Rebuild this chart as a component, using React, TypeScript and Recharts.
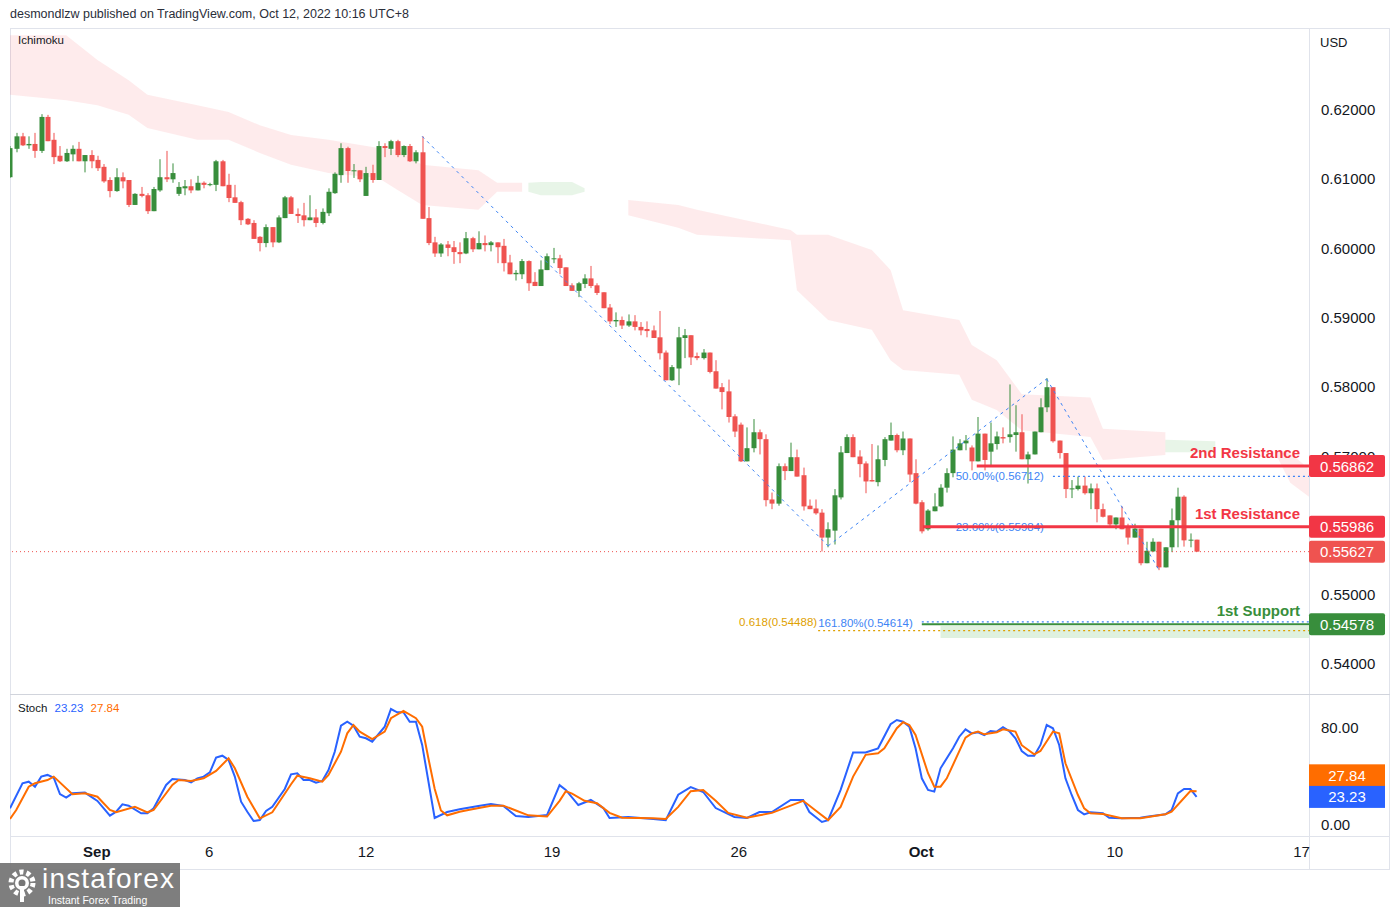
import React from "react";
import { ComposedChart, Bar, Area, Line, XAxis, YAxis, ReferenceLine, ReferenceArea } from "recharts";

// 4h candles, index 0 = first (cut) candle on the left edge
const opens = [0.6103,0.6144,0.6162,0.6149,0.6151,0.6141,0.6190,0.6157,0.6134,0.6126,0.6136,0.6144,0.6126,0.6135,0.6128,0.6118,0.6099,0.6083,0.6103,0.6099,0.6063,0.6079,0.6077,0.6054,0.6084,0.6103,0.6100,0.6079,0.6087,0.6090,0.6084,0.6095,0.6092,0.6092,0.6126,0.6092,0.6074,0.6067,0.6043,0.6037,0.6017,0.6008,0.6031,0.6009,0.6044,0.6074,0.6050,0.6048,0.6041,0.6045,0.6037,0.6051,0.6080,0.6106,0.6145,0.6112,0.6113,0.6076,0.6109,0.6099,0.6148,0.6144,0.6155,0.6135,0.6148,0.6126,0.6139,0.6044,0.6009,0.5993,0.6006,0.6002,0.5995,0.5993,0.6015,0.5999,0.6008,0.6005,0.6009,0.6004,0.5980,0.5963,0.5963,0.5982,0.5952,0.5946,0.5969,0.5985,0.5986,0.5973,0.5947,0.5939,0.5949,0.5957,0.5947,0.5937,0.5915,0.5895,0.5897,0.5889,0.5895,0.5887,0.5884,0.5882,0.5872,0.5850,0.5810,0.5827,0.5871,0.5875,0.5845,0.5842,0.5850,0.5823,0.5800,0.5794,0.5758,0.5746,0.5693,0.5712,0.5735,0.5725,0.5638,0.5632,0.5686,0.5679,0.5699,0.5673,0.5629,0.5625,0.5619,0.5583,0.5593,0.5641,0.5705,0.5728,0.5700,0.5690,0.5666,0.5663,0.5695,0.5723,0.5731,0.5709,0.5726,0.5676,0.5634,0.5595,0.5621,0.5628,0.5655,0.5676,0.5709,0.5719,0.5713,0.5693,0.5733,0.5707,0.5718,0.5728,0.5728,0.5731,0.5735,0.5696,0.5703,0.5735,0.5771,0.5800,0.5723,0.5705,0.5653,0.5653,0.5658,0.5647,0.5654,0.5624,0.5615,0.5602,0.5612,0.5597,0.5583,0.5596,0.5546,0.5563,0.5577,0.5540,0.5569,0.5608,0.5642,0.5579,0.5580];
const highs = [0.6148,0.6167,0.6167,0.6162,0.6167,0.6194,0.6193,0.6167,0.6148,0.6144,0.6149,0.6154,0.6135,0.6142,0.6134,0.6122,0.6103,0.6116,0.6110,0.6099,0.6080,0.6089,0.6080,0.6089,0.6129,0.6141,0.6123,0.6096,0.6099,0.6100,0.6105,0.6097,0.6095,0.6128,0.6128,0.6108,0.6092,0.6069,0.6044,0.6041,0.6018,0.6035,0.6031,0.6048,0.6076,0.6076,0.6058,0.6066,0.6077,0.6057,0.6058,0.6087,0.6110,0.6152,0.6147,0.6122,0.6113,0.6118,0.6121,0.6155,0.6152,0.6157,0.6157,0.6149,0.6151,0.6142,0.6162,0.6060,0.6017,0.6008,0.6011,0.6011,0.6009,0.6024,0.6017,0.6025,0.6019,0.6011,0.6009,0.6014,0.5991,0.5969,0.5985,0.5983,0.5966,0.5983,0.5993,0.6001,0.5991,0.5973,0.5950,0.5952,0.5963,0.5975,0.5950,0.5937,0.5920,0.5908,0.5902,0.5905,0.5904,0.5894,0.5895,0.5889,0.5910,0.5853,0.5832,0.5887,0.5884,0.5875,0.5850,0.5855,0.5850,0.5839,0.5806,0.5811,0.5761,0.5749,0.5742,0.5754,0.5739,0.5732,0.5648,0.5690,0.5690,0.5720,0.5710,0.5684,0.5638,0.5638,0.5624,0.5605,0.5653,0.5715,0.5732,0.5732,0.5709,0.5693,0.5718,0.5716,0.5728,0.5749,0.5733,0.5736,0.5726,0.5696,0.5637,0.5624,0.5647,0.5660,0.5683,0.5729,0.5725,0.5731,0.5716,0.5757,0.5733,0.5749,0.5736,0.5742,0.5804,0.5774,0.5761,0.5707,0.5736,0.5784,0.5813,0.5800,0.5723,0.5705,0.5666,0.5671,0.5671,0.5661,0.5661,0.5632,0.5615,0.5612,0.5628,0.5603,0.5603,0.5596,0.5577,0.5582,0.5577,0.5569,0.5625,0.5655,0.5644,0.5589,0.5580];
const lows = [0.6102,0.6139,0.6148,0.6144,0.6131,0.6138,0.6155,0.6122,0.6125,0.6125,0.6126,0.6126,0.6110,0.6116,0.6112,0.6095,0.6074,0.6082,0.6087,0.6060,0.6063,0.6074,0.6050,0.6054,0.6082,0.6096,0.6095,0.6076,0.6077,0.6080,0.6084,0.6087,0.6090,0.6083,0.6090,0.6067,0.6066,0.6034,0.6034,0.6014,0.5996,0.6002,0.6002,0.6008,0.6044,0.6050,0.6037,0.6032,0.6041,0.6031,0.6035,0.6047,0.6079,0.6095,0.6095,0.6102,0.6096,0.6076,0.6095,0.6099,0.6132,0.6135,0.6132,0.6132,0.6125,0.6123,0.6043,0.6005,0.5988,0.5988,0.5989,0.5978,0.5979,0.5992,0.5995,0.5999,0.5996,0.5996,0.5979,0.5967,0.5963,0.5954,0.5956,0.5939,0.5946,0.5946,0.5969,0.5979,0.5963,0.5946,0.5939,0.5930,0.5943,0.5943,0.5933,0.5914,0.5891,0.5887,0.5884,0.5887,0.5882,0.5875,0.5872,0.5871,0.5840,0.5810,0.5809,0.5803,0.5842,0.5832,0.5839,0.5840,0.5820,0.5798,0.5768,0.5749,0.5728,0.5692,0.5693,0.5706,0.5703,0.5628,0.5624,0.5629,0.5666,0.5679,0.5671,0.5622,0.5624,0.5616,0.5563,0.5569,0.5573,0.5638,0.5705,0.5699,0.5670,0.5647,0.5664,0.5657,0.5686,0.5723,0.5706,0.5702,0.5663,0.5631,0.5589,0.5593,0.5621,0.5627,0.5648,0.5670,0.5709,0.5709,0.5680,0.5693,0.5680,0.5687,0.5710,0.5719,0.5720,0.5707,0.5696,0.5661,0.5703,0.5735,0.5764,0.5720,0.5697,0.5640,0.5640,0.5651,0.5645,0.5624,0.5605,0.5612,0.5597,0.5595,0.5595,0.5573,0.5583,0.5543,0.5546,0.5562,0.5536,0.5540,0.5562,0.5569,0.5570,0.5569,0.55627];
const closes = [0.6145,0.6162,0.6149,0.6151,0.6141,0.6190,0.6155,0.6132,0.6126,0.6138,0.6144,0.6126,0.6135,0.6126,0.6116,0.6097,0.6083,0.6103,0.6097,0.6063,0.6079,0.6076,0.6054,0.6086,0.6103,0.6100,0.6109,0.6089,0.6090,0.6084,0.6095,0.6092,0.6093,0.6126,0.6090,0.6073,0.6066,0.6041,0.6035,0.6014,0.6008,0.6031,0.6009,0.6045,0.6074,0.6050,0.6047,0.6041,0.6045,0.6037,0.6053,0.6082,0.6108,0.6145,0.6112,0.6113,0.6100,0.6109,0.6099,0.6148,0.6145,0.6155,0.6135,0.6148,0.6126,0.6139,0.6043,0.6008,0.5993,0.6006,0.6001,0.5995,0.5992,0.6015,0.5999,0.6008,0.6005,0.6009,0.6002,0.5979,0.5963,0.5965,0.5982,0.5950,0.5946,0.5970,0.5989,0.5986,0.5972,0.5946,0.5939,0.5950,0.5957,0.5946,0.5936,0.5914,0.5895,0.5897,0.5889,0.5895,0.5887,0.5882,0.5881,0.5871,0.5849,0.5810,0.5829,0.5872,0.5875,0.5843,0.5842,0.5850,0.5822,0.5798,0.5793,0.5757,0.5736,0.5693,0.5712,0.5735,0.5725,0.5637,0.5632,0.5686,0.5679,0.5699,0.5671,0.5628,0.5624,0.5618,0.5583,0.5595,0.5644,0.5706,0.5728,0.5699,0.5689,0.5664,0.5664,0.5696,0.5725,0.5731,0.5709,0.5726,0.5674,0.5632,0.5592,0.5622,0.5628,0.5655,0.5676,0.5710,0.5719,0.5723,0.5693,0.5733,0.5695,0.5719,0.5729,0.5726,0.5732,0.5735,0.5696,0.5703,0.5736,0.5771,0.5800,0.5722,0.5705,0.5653,0.5654,0.5658,0.5647,0.5654,0.5624,0.5613,0.5602,0.5612,0.5595,0.5583,0.5596,0.5546,0.5564,0.5577,0.5540,0.5569,0.5608,0.5642,0.5579,0.5580,0.55627];

// Stochastic %K and %D vertices [candle index, value]
const stochK = [[0,13.8],[2,34.5],[3,35.8],[4,31.7],[5,40],[6,41.4],[7,39.1],[8,25.6],[9,22.6],[10,26.2],[12,26.8],[14,19.9],[16,7.7],[17,11],[18,17.1],[19,16],[21,9.7],[22,9.7],[23,13.8],[25,33.1],[26,38],[28,37.2],[29,35.3],[30,38.6],[31,40],[32,43.6],[33,55.7],[34,57.3],[35,53.8],[36,40],[37,19.3],[38,11],[39,3.3],[40,4.1],[41,11.6],[42,15.1],[44,29.8],[45,41.9],[46,42.8],[47,37.2],[48,37.2],[49,35],[50,36.4],[51,45.5],[52,60.6],[53,82.1],[54,85.4],[55,82.1],[56,73],[57,71.7],[58,68.9],[60,81.3],[61,95.9],[62,93.2],[63,93.2],[64,85.4],[65,85.4],[66,66.2],[68,5.8],[70,10.7],[72,13],[75,15.7],[77,17.4],[79,15.7],[81,7.4],[83,6.6],[86,8.3],[88,33],[89,29],[91,16.5],[93,20.7],[95,14],[96,5.8],[99,6.6],[103,5],[105,4],[107,25],[109,31.4],[111,27.3],[113,14],[116,6.6],[118,5.8],[120,10.7],[122,10.7],[125,20.7],[127,20.7],[128,10.7],[130,2.5],[131,4],[133,29],[135,60],[137,60],[139,63.4],[141,83.3],[142,86.8],[143,85.4],[144,81.3],[145,63.4],[146,38.6],[147,29],[148,27.6],[149,46.9],[151,63.4],[152,73],[153,79.1],[154,75.8],[155,76.7],[156,74.4],[157,77.7],[158,77.2],[159,80.8],[160,77.7],[161,71.7],[162,61.2],[163,57.3],[164,57.3],[165,66.2],[166,82.7],[167,80],[168,66.2],[169,38.6],[170,24.8],[171,12.4],[172,8.8],[173,10.5],[175,9.7],[176,6],[178,5.5],[181,6],[182,6.9],[185,8.8],[186,12.4],[187,26.2],[188,29.8],[189,29.8],[190,23.23]];
const stochD = [[0,5],[1,12.4],[3,31.7],[4,34.5],[6,37.2],[7,40],[10,25.4],[12,26.2],[14,23.4],[16,12.4],[17,10.5],[20,15.1],[22,10.5],[23,12.4],[26,33.1],[27,37.2],[29,36.4],[31,38.6],[33,44.7],[35,55.2],[36,46.9],[38,23.4],[40,5.5],[42,10.5],[45,33.7],[46,40.8],[48,38.6],[50,35.8],[51,41.4],[53,60.6],[54,75.8],[55,82.7],[56,77.2],[58,71.1],[60,77.2],[61,88.3],[63,94.3],[65,88.3],[66,81.3],[67,55],[68,30],[69,12],[70,8],[72,11],[74,13],[77,16],[79,16],[81,12],[83,8],[86,7],[88,20],[89,28],[90,26],[92,20],[94,18],[96,10],[98,6],[103,5.5],[105,5],[107,15],[109,28],[111,29],[113,20],[115,10],[118,6],[120,8],[122,10],[125,16],[127,20],[129,12],[131,4],[133,15],[135,40],[137,58],[139,59.3],[140,63.4],[142,80],[143,85],[144,82.7],[145,74.4],[147,42.8],[148,31.7],[149,31.7],[150,38.6],[153,72.2],[154,75.8],[155,77.2],[156,75],[158,76.7],[159,79.1],[161,77.2],[162,66],[164,58.4],[165,61.2],[167,77.2],[168,75.8],[169,51],[171,24.8],[172,13.8],[173,9.7],[175,9.1],[178,5.5],[181,5.5],[185,8.8],[186,11],[189,28.1],[190,27.84]];

// Ichimoku cloud [index, lower, upper]
const cloudRed1 = [[0,0.6222,0.6308],[9,0.6214,0.6308],[14,0.6207,0.6272],[19,0.6193,0.6243],[22,0.6174,0.6222],[30,0.6157,0.6207],[35,0.6157,0.6197],[40,0.6138,0.6178],[45,0.6121,0.6164],[51,0.6109,0.6157],[59,0.6102,0.6145],[62,0.6085,0.6142],[66,0.6063,0.6121],[75,0.6056,0.6113],[78,0.6082,0.6095],[82,0.6082,0.6095]];
const cloudGreen1 = [[83,0.6082,0.6095],[85,0.6077,0.6096],[90,0.6077,0.6096],[92,0.6082,0.6087]];
const cloudRed2 = [[99,0.6048,0.6070],[107,0.6030,0.6063],[110,0.6020,0.6056],[125,0.6012,0.6027],[126,0.5940,0.6020],[131,0.5897,0.6020],[138,0.5883,0.5998],[141,0.5839,0.5969],[143,0.5825,0.5911],[152,0.5818,0.5897],[154,0.5782,0.5861],[158,0.5767,0.5839],[162,0.5738,0.5790],[173,0.5728,0.5785],[175,0.5695,0.5740],[185,0.5702,0.5735]];
const cloudGreen2 = [[185,0.5706,0.5724],[193,0.5706,0.5722]];
const cloudRed3 = [[203,0.5698,0.5709],[205,0.5662,0.5705],[208,0.5642,0.5682]];

const priceTicks = [0.54, 0.55, 0.56, 0.57, 0.58, 0.59, 0.6, 0.61, 0.62];
const stochTicks = [0, 80];
const dayTicks = [13.9, 31.9, 57.0, 86.8, 116.7, 145.9, 176.9, 206.8];
const dayLabels = ["Sep", "6", "12", "19", "26", "Oct", "10", "17"];

const priceBadges: Record<string, string> = {
  "0.56862": "#f23645",
  "0.55986": "#f23645",
  "0.55627": "#ef5350",
  "0.54578": "#388e3c",
};
const stochBadges: Record<string, [string, number]> = {
  "23.23": ["#2962ff", 0],
  "27.84": ["#ff6d00", -16],
};

const UP = "#388e3c";
const DOWN = "#ef5350";
const RED = "#f23645";
const BLUE = "#2962ff";
const FIB = "#3d84f5";
const FONT = "'Liberation Sans', Arial, sans-serif";
const TEXT = "#131722";

const rows: any[] = Array.from({ length: 209 }, (_, i) => ({ i }));
opens.forEach((o, i) => {
  rows[i].o = o;
  rows[i].h = highs[i];
  rows[i].l = lows[i];
  rows[i].c = closes[i];
  rows[i].range = [lows[i], highs[i]];
});
stochK.forEach(([i, v]) => (rows[i].k = v));
stochD.forEach(([i, v]) => (rows[i].d = v));
const cloudSets: [string, number[][]][] = [
  ["red1", cloudRed1], ["green1", cloudGreen1], ["red2", cloudRed2], ["green2", cloudGreen2], ["red3", cloudRed3],
];
cloudSets.forEach(([key, pts]) => pts.forEach(([i, lo, hi]) => (rows[i][key] = [lo, hi])));

function Candle(props: any) {
  const { x, y, width, height, payload } = props;
  if (!payload || payload.o == null || isNaN(y)) return null;
  const { o, h, l, c } = payload;
  const color = c >= o ? UP : DOWN;
  const top = Math.min(y, y + height);
  const hh = Math.abs(height);
  const pos = (v: number) => (h > l ? top + ((h - v) / (h - l)) * hh : top);
  const cx = Math.round(x + width / 2);
  const bTop = pos(Math.max(o, c));
  const bBot = pos(Math.min(o, c));
  return (
    <g>
      <rect x={cx - 0.5} y={top} width={1} height={Math.max(1, hh)} fill={color} />
      <rect x={cx - 2.5} y={bTop} width={5} height={Math.max(1, bBot - bTop)} fill={color} />
    </g>
  );
}

function PriceTick(props: any) {
  const { y, payload } = props;
  const key = payload.value.toFixed(5);
  const badge = priceBadges[key];
  if (badge) {
    return (
      <g>
        <rect x={1309} y={y - 11} width={76} height={22} rx={2} fill={badge} />
        <text x={1347} y={y + 5.5} textAnchor="middle" fill="#fff" fontSize={15} fontFamily={FONT}>{key}</text>
      </g>
    );
  }
  return <text x={1321} y={y + 5} fill={TEXT} fontSize={15} fontFamily={FONT}>{key}</text>;
}

function StochTick(props: any) {
  const { y, payload } = props;
  const key = payload.value.toFixed(2);
  const badge = stochBadges[key];
  if (badge) {
    const yy = y + badge[1];
    return (
      <g>
        <rect x={1309} y={yy - 11} width={76} height={22} fill={badge[0]} />
        <text x={1347} y={yy + 5.5} textAnchor="middle" fill="#fff" fontSize={15} fontFamily={FONT}>{key}</text>
      </g>
    );
  }
  return <text x={1321} y={y + 5} fill={TEXT} fontSize={15} fontFamily={FONT}>{key}</text>;
}

function DayTick(props: any) {
  const { x, y, payload } = props;
  const idx = dayTicks.indexOf(payload.value);
  const label = dayLabels[idx] ?? "";
  const bold = label === "Sep" || label === "Oct";
  return (
    <text x={x} y={y + 21} textAnchor="middle" fill={TEXT} fontSize={15} fontWeight={bold ? 700 : 400} fontFamily={FONT}>
      {label}
    </text>
  );
}

const sideLabel = (text: string, color: string, dx: number, dy: number) => (p: any) => {
  const vb = p.viewBox || {};
  return (
    <text x={vb.x + dx} y={vb.y + dy} textAnchor="end" fill={color} fontSize={11.5} fontFamily={FONT}>
      {text}
    </text>
  );
};
const rightLabel = (text: string, color: string) => (p: any) => {
  const vb = p.viewBox || {};
  return (
    <text x={vb.x + vb.width - 9} y={vb.y - 8} textAnchor="end" fill={color} fontSize={15} fontWeight={700} fontFamily={FONT}>
      {text}
    </text>
  );
};

export default function App() {
  const line = (color: string) => ({ stroke: color, strokeWidth: 1.2, strokeDasharray: "2 3" });
  return (
    <div style={{ position: "absolute", left: 0, top: 0, width: 1399, height: 907, background: "#fff", overflow: "hidden", fontFamily: FONT }}>
      <div style={{ position: "absolute", left: 10, top: 7, fontSize: 12.5, color: "#2a2e39" }}>
        desmondlzw published on TradingView.com, Oct 12, 2022 10:16 UTC+8
      </div>

      {/* frame */}
      <div style={{ position: "absolute", left: 10, top: 28, width: 1380, height: 842, border: "1px solid #e0e3eb", boxSizing: "border-box" }} />
      <div style={{ position: "absolute", left: 1309, top: 28, width: 1, height: 842, background: "#e0e3eb" }} />
      <div style={{ position: "absolute", left: 10, top: 694, width: 1380, height: 1, background: "#d1d4dc" }} />
      <div style={{ position: "absolute", left: 10, top: 836, width: 1380, height: 1, background: "#e0e3eb" }} />

      <div style={{ position: "absolute", left: 0, top: 28 }}>
        <ComposedChart width={1399} height={666} data={rows} margin={{ top: 0, right: 9, bottom: 0, left: 10 }}>
          <XAxis dataKey="i" type="number" domain={[0, 208]} hide allowDataOverflow />
          <YAxis orientation="right" width={81} domain={[0.535729, 0.631833]} allowDataOverflow
            ticks={[...priceTicks, 0.56862, 0.55986, 0.55627, 0.54578]} interval={0}
            tick={<PriceTick />} tickLine={false} axisLine={false} />
          <Area dataKey="red1" type="linear" stroke="none" fill="#f23645" fillOpacity={0.1} connectNulls isAnimationActive={false} />
          <Area dataKey="green1" type="linear" stroke="none" fill="#4caf50" fillOpacity={0.13} connectNulls isAnimationActive={false} />
          <Area dataKey="red2" type="linear" stroke="none" fill="#f23645" fillOpacity={0.1} connectNulls isAnimationActive={false} />
          <Area dataKey="green2" type="linear" stroke="none" fill="#4caf50" fillOpacity={0.13} connectNulls isAnimationActive={false} />
          <Area dataKey="red3" type="linear" stroke="none" fill="#f23645" fillOpacity={0.1} connectNulls isAnimationActive={false} />

          <ReferenceArea x1={149} x2={208} y1={0.54381} y2={0.54554} fill="#4caf50" fillOpacity={0.18} stroke="none" />
          <ReferenceLine y={0.55627} stroke={DOWN} strokeDasharray="1 3" />
          <ReferenceLine segment={[{ x: 129.4, y: 0.54488 }, { x: 208, y: 0.54488 }]} stroke="#e0a100" strokeDasharray="2 3" strokeWidth={1.2}
            label={sideLabel("0.618(0.54488)", "#e0a100", -1, -5)} />
          <ReferenceLine segment={[{ x: 146, y: 0.54614 }, { x: 208, y: 0.54614 }]} {...line(FIB)}
            label={sideLabel("161.80%(0.54614)", FIB, -9, 5)} />
          <ReferenceLine segment={[{ x: 146, y: 0.54578 }, { x: 208, y: 0.54578 }]} stroke={UP} strokeWidth={2}
            label={rightLabel("1st Support", UP)} />
          <ReferenceLine segment={[{ x: 167, y: 0.56712 }, { x: 208, y: 0.56712 }]} {...line(FIB)}
            label={sideLabel("50.00%(0.56712)", FIB, -9, 4)} />
          <ReferenceLine segment={[{ x: 167, y: 0.55984 }, { x: 208, y: 0.55984 }]} {...line(FIB)}
            label={sideLabel("23.60%(0.55984)", FIB, -9, 4)} />

          <ReferenceLine segment={[{ x: 66, y: 0.6162 }, { x: 131, y: 0.5571 }]} stroke={FIB} strokeDasharray="3 4" />
          <ReferenceLine segment={[{ x: 131, y: 0.5571 }, { x: 166, y: 0.5812 }]} stroke={FIB} strokeDasharray="3 4" />
          <ReferenceLine segment={[{ x: 166, y: 0.5812 }, { x: 184, y: 0.5536 }]} stroke={FIB} strokeDasharray="3 4" />

          <Bar dataKey="range" barSize={5} shape={<Candle />} isAnimationActive={false} />

          <ReferenceLine segment={[{ x: 154.8, y: 0.56862 }, { x: 208, y: 0.56862 }]} stroke={RED} strokeWidth={3}
            label={rightLabel("2nd Resistance", RED)} />
          <ReferenceLine segment={[{ x: 146.2, y: 0.55986 }, { x: 208, y: 0.55986 }]} stroke={RED} strokeWidth={3}
            label={rightLabel("1st Resistance", RED)} />
        </ComposedChart>
      </div>

      <div style={{ position: "absolute", left: 0, top: 695 }}>
        <ComposedChart width={1399} height={175} data={rows} margin={{ top: 0, right: 9, bottom: 0, left: 10 }}>
          <XAxis dataKey="i" type="number" domain={[0, 208]} allowDataOverflow height={34}
            ticks={dayTicks} interval={0} tick={<DayTick />} tickLine={false} tickSize={0} tickMargin={0} axisLine={false} />
          <YAxis orientation="right" width={81} domain={[-9.1, 107.5]} allowDataOverflow
            ticks={[...stochTicks, 27.84, 23.23]} interval={0} tick={<StochTick />} tickLine={false} axisLine={false} />
          <Line dataKey="k" type="linear" stroke={BLUE} strokeWidth={2} dot={false} connectNulls isAnimationActive={false} />
          <Line dataKey="d" type="linear" stroke="#ff6d00" strokeWidth={2} dot={false} connectNulls isAnimationActive={false} />
        </ComposedChart>
      </div>

      <div style={{ position: "absolute", left: 18, top: 34, fontSize: 11.5, color: TEXT }}>Ichimoku</div>
      <div style={{ position: "absolute", left: 18, top: 702, fontSize: 11.5, color: TEXT }}>
        Stoch <span style={{ color: BLUE, marginLeft: 4 }}>23.23</span> <span style={{ color: "#ff6d00", marginLeft: 4 }}>27.84</span>
      </div>
      <div style={{ position: "absolute", left: 1320, top: 35, fontSize: 13, color: TEXT }}>USD</div>

      {/* watermark */}
      <div style={{ position: "absolute", left: 0, top: 863, width: 180, height: 44, background: "rgba(115,115,115,0.92)" }}>
        <svg width={180} height={44} style={{ position: "absolute", left: 0, top: 0 }}>
          <circle cx={22} cy={20} r={11} fill="none" stroke="#fff" strokeWidth={5} strokeDasharray="4 3" />
          <circle cx={22} cy={20} r={7} fill="#fff" />
          <circle cx={22} cy={20} r={3.5} fill="#777" />
          <rect x={20} y={23} width={4} height={16} fill="#fff" />
          <text x={42} y={25} fill="#fff" fontSize={28} fontFamily={FONT} textLength={132}>instaforex</text>
          <text x={48} y={40.5} fill="#fff" fontSize={10.5} fontFamily={FONT}>Instant Forex Trading</text>
        </svg>
      </div>
    </div>
  );
}
